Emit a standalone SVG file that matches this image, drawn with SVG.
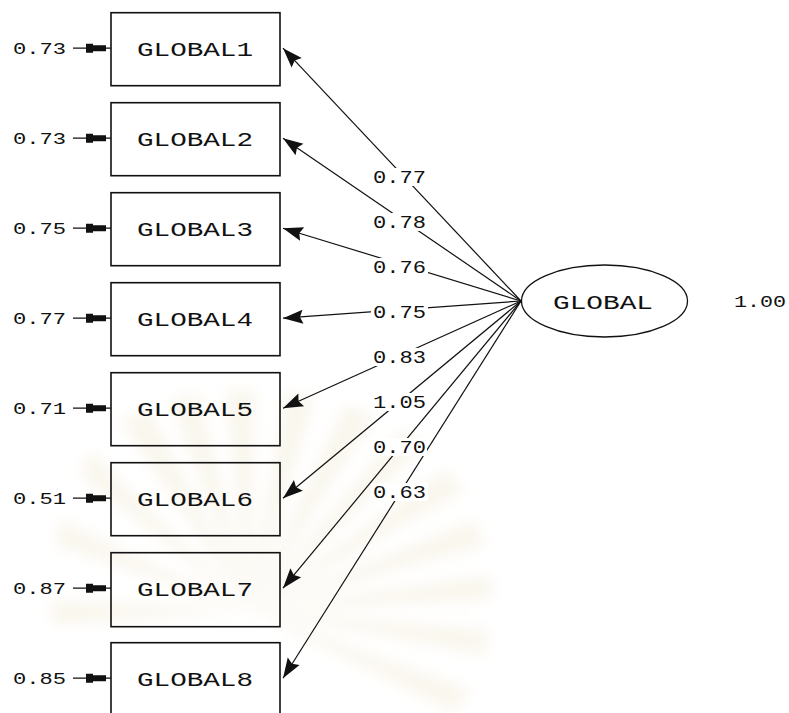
<svg xmlns="http://www.w3.org/2000/svg" width="789" height="713" viewBox="0 0 789 713">
  <style>
    .box { fill: none; stroke: #111; stroke-width: 1.6; }
    .lat { fill: #fff; stroke: #111; stroke-width: 1.3; }
    .path { stroke: #111; stroke-width: 1.2; fill: none; marker-end: url(#head); }
    .err { stroke: #111; stroke-width: 1.2; }
    .blk { fill: #111; }
    .name { font-family: "Liberation Mono", "DejaVu Sans Mono", monospace; font-size: 21px; fill: #111; }
    .val { font-family: "Liberation Mono", "DejaVu Sans Mono", monospace; font-size: 16px; fill: #111; }
    .coef { font-family: "Liberation Mono", "DejaVu Sans Mono", monospace; font-size: 18px; fill: #111; }
    .bg { fill: #fff; }
    .ray { fill: #efe6cc; }
  </style>
  <defs>
    <marker id="head" markerUnits="userSpaceOnUse" markerWidth="24" markerHeight="16" viewBox="-22 -8 24 16" refX="0" refY="0" orient="auto">
      <path d="M0,0 L-20,-7 L-17,0 L-20,7 Z" fill="#111"/>
    </marker>
    <filter id="soft" x="-20%" y="-20%" width="140%" height="140%">
      <feGaussianBlur stdDeviation="7"/>
    </filter>
  </defs>

  <rect width="789" height="713" fill="#fff"/>

  <!-- faint background emblem -->
  <g id="emblem" opacity="0.35" filter="url(#soft)">
    <path class="ray" d="M250,610 L120,420 L150,410 Z"/>
    <path class="ray" d="M250,610 L170,400 L200,395 Z"/>
    <path class="ray" d="M250,610 L225,390 L255,390 Z"/>
    <path class="ray" d="M250,610 L285,392 L315,398 Z"/>
    <path class="ray" d="M250,610 L345,405 L375,415 Z"/>
    <path class="ray" d="M250,610 L400,430 L425,445 Z"/>
    <path class="ray" d="M250,610 L445,470 L465,490 Z"/>
    <path class="ray" d="M250,610 L475,520 L485,545 Z"/>
    <path class="ray" d="M250,610 L490,575 L492,600 Z"/>
    <path class="ray" d="M250,610 L490,630 L485,655 Z"/>
    <path class="ray" d="M250,610 L470,690 L455,712 Z"/>
    <path class="ray" d="M250,610 L90,450 L80,475 Z"/>
    <path class="ray" d="M250,610 L60,520 L55,545 Z"/>
    <path class="ray" d="M250,610 L50,600 L52,625 Z"/>
  </g>

  <!-- loading paths from the latent factor -->
  <g id="connectors">
    <line class="path" x1="521" y1="301" x2="283" y2="48.2"/>
    <line class="path" x1="521" y1="301" x2="283" y2="138.2"/>
    <line class="path" x1="521" y1="301" x2="283" y2="228.2"/>
    <line class="path" x1="521" y1="301" x2="283" y2="318.2"/>
    <line class="path" x1="521" y1="301" x2="283" y2="408.2"/>
    <line class="path" x1="521" y1="301" x2="283" y2="498.2"/>
    <line class="path" x1="521" y1="301" x2="283" y2="588.2"/>
    <line class="path" x1="521" y1="301" x2="283" y2="678.2"/>

    <!-- error arrows -->
    <g>
      <line class="err" x1="73" y1="48.2" x2="111" y2="48.2"/>
      <path class="blk" d="M86,43.7 H93 V45.2 H106 V51.2 H93 V52.7 H86 Z"/>
      <line class="err" x1="73" y1="138.2" x2="111" y2="138.2"/>
      <path class="blk" d="M86,133.7 H93 V135.2 H106 V141.2 H93 V142.7 H86 Z"/>
      <line class="err" x1="73" y1="228.2" x2="111" y2="228.2"/>
      <path class="blk" d="M86,223.7 H93 V225.2 H106 V231.2 H93 V232.7 H86 Z"/>
      <line class="err" x1="73" y1="318.2" x2="111" y2="318.2"/>
      <path class="blk" d="M86,313.7 H93 V315.2 H106 V321.2 H93 V322.7 H86 Z"/>
      <line class="err" x1="73" y1="408.2" x2="111" y2="408.2"/>
      <path class="blk" d="M86,403.7 H93 V405.2 H106 V411.2 H93 V412.7 H86 Z"/>
      <line class="err" x1="73" y1="498.2" x2="111" y2="498.2"/>
      <path class="blk" d="M86,493.7 H93 V495.2 H106 V501.2 H93 V502.7 H86 Z"/>
      <line class="err" x1="73" y1="588.2" x2="111" y2="588.2"/>
      <path class="blk" d="M86,583.7 H93 V585.2 H106 V591.2 H93 V592.7 H86 Z"/>
      <line class="err" x1="73" y1="678.2" x2="111" y2="678.2"/>
      <path class="blk" d="M86,673.7 H93 V675.2 H106 V681.2 H93 V682.7 H86 Z"/>
    </g>

    <!-- loading values -->
    <g>
      <rect class="bg" x="371" y="168" width="57" height="18"/>
      <text class="coef" x="373" y="183.3" textLength="53" lengthAdjust="spacingAndGlyphs">0.77</text>
      <rect class="bg" x="371" y="213" width="57" height="18"/>
      <text class="coef" x="373" y="228.3" textLength="53" lengthAdjust="spacingAndGlyphs">0.78</text>
      <rect class="bg" x="371" y="258" width="57" height="18"/>
      <text class="coef" x="373" y="273.3" textLength="53" lengthAdjust="spacingAndGlyphs">0.76</text>
      <rect class="bg" x="371" y="303" width="57" height="18"/>
      <text class="coef" x="373" y="318.3" textLength="53" lengthAdjust="spacingAndGlyphs">0.75</text>
      <rect class="bg" x="371" y="348" width="57" height="18"/>
      <text class="coef" x="373" y="363.3" textLength="53" lengthAdjust="spacingAndGlyphs">0.83</text>
      <rect class="bg" x="371" y="393" width="57" height="18"/>
      <text class="coef" x="373" y="408.3" textLength="53" lengthAdjust="spacingAndGlyphs">1.05</text>
      <rect class="bg" x="371" y="438" width="56" height="18"/>
      <text class="coef" x="373" y="453.3" textLength="53" lengthAdjust="spacingAndGlyphs">0.70</text>
      <rect class="bg" x="371" y="483" width="57" height="18"/>
      <text class="coef" x="373" y="498.3" textLength="53" lengthAdjust="spacingAndGlyphs">0.63</text>
    </g>
  </g>

  <!-- observed indicators -->
  <g id="GLOBAL1">
    <rect class="box" x="111" y="12.7" width="169" height="73"/>
    <text class="name" x="137" y="56.2" textLength="116" lengthAdjust="spacingAndGlyphs">GLOBAL1</text>
    <text class="val" x="13" y="54.3" textLength="53" lengthAdjust="spacingAndGlyphs">0.73</text>
  </g>
  <g id="GLOBAL2">
    <rect class="box" x="111" y="102.7" width="169" height="73"/>
    <text class="name" x="137" y="146.2" textLength="116" lengthAdjust="spacingAndGlyphs">GLOBAL2</text>
    <text class="val" x="13" y="144.3" textLength="53" lengthAdjust="spacingAndGlyphs">0.73</text>
  </g>
  <g id="GLOBAL3">
    <rect class="box" x="111" y="192.7" width="169" height="73"/>
    <text class="name" x="137" y="236.2" textLength="116" lengthAdjust="spacingAndGlyphs">GLOBAL3</text>
    <text class="val" x="13" y="234.3" textLength="53" lengthAdjust="spacingAndGlyphs">0.75</text>
  </g>
  <g id="GLOBAL4">
    <rect class="box" x="111" y="282.7" width="169" height="73"/>
    <text class="name" x="137" y="326.2" textLength="116" lengthAdjust="spacingAndGlyphs">GLOBAL4</text>
    <text class="val" x="13" y="324.3" textLength="53" lengthAdjust="spacingAndGlyphs">0.77</text>
  </g>
  <g id="GLOBAL5">
    <rect class="box" x="111" y="372.7" width="169" height="73"/>
    <text class="name" x="137" y="416.2" textLength="116" lengthAdjust="spacingAndGlyphs">GLOBAL5</text>
    <text class="val" x="13" y="414.3" textLength="53" lengthAdjust="spacingAndGlyphs">0.71</text>
  </g>
  <g id="GLOBAL6">
    <rect class="box" x="111" y="462.7" width="169" height="73"/>
    <text class="name" x="137" y="506.2" textLength="116" lengthAdjust="spacingAndGlyphs">GLOBAL6</text>
    <text class="val" x="13" y="504.3" textLength="53" lengthAdjust="spacingAndGlyphs">0.51</text>
  </g>
  <g id="GLOBAL7">
    <rect class="box" x="111" y="552.7" width="169" height="74"/>
    <text class="name" x="137" y="596.2" textLength="116" lengthAdjust="spacingAndGlyphs">GLOBAL7</text>
    <text class="val" x="13" y="594.3" textLength="53" lengthAdjust="spacingAndGlyphs">0.87</text>
  </g>
  <g id="GLOBAL8">
    <rect class="box" x="111" y="642.7" width="169" height="74"/>
    <text class="name" x="137" y="686.2" textLength="116" lengthAdjust="spacingAndGlyphs">GLOBAL8</text>
    <text class="val" x="13" y="684.3" textLength="53" lengthAdjust="spacingAndGlyphs">0.85</text>
  </g>

  <!-- latent factor -->
  <g id="GLOBAL">
    <ellipse class="lat" cx="604.5" cy="301" rx="83" ry="36"/>
    <text class="name" x="553" y="309" textLength="100" lengthAdjust="spacingAndGlyphs">GLOBAL</text>
    <text class="val" x="734" y="307.3" textLength="52" lengthAdjust="spacingAndGlyphs">1.00</text>
  </g>
</svg>
